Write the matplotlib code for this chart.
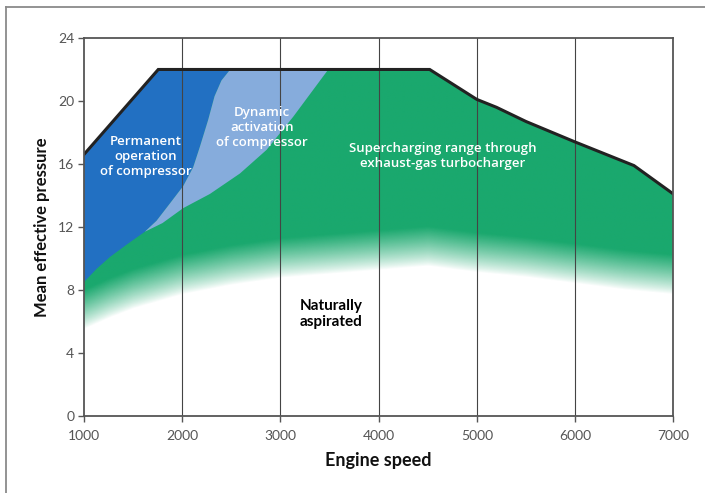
import numpy as np
import matplotlib
matplotlib.use('Agg')
from matplotlib import pyplot as plt
from matplotlib.path import Path
from matplotlib.patches import PathPatch

# full-load line (upper boundary)
top_x = [1000, 1757, 4520, 5000, 5200, 5500, 6000, 6600, 7000]
top_y = [16.6, 22.0, 22.0, 20.1, 19.6, 18.7, 17.4, 15.9, 14.1]

# boundary dark blue / light blue (from the top line down)
db_x = [2490, 2400, 2330, 2265, 2181, 2113, 2011, 1876, 1740, 1620]
db_y = [22.0, 21.3, 20.3, 18.8, 17.1, 15.8, 14.6, 13.5, 12.4, 11.7]

# lower edge of dark blue (green top on the left)
dbl_x = [1000, 1130, 1265, 1450, 1620]
dbl_y = [8.5, 9.35, 10.1, 10.95, 11.7]

# lower edge of light blue (green top)
lbl_x = [1620, 1800, 2011, 2283, 2589, 2860, 3131, 3488]
lbl_y = [11.7, 12.25, 13.2, 14.1, 15.4, 16.9, 19.0, 22.0]

# where the green fades out to white (naturally aspirated limit)
we_x = [1000, 1250, 1500, 2000, 2500, 3000, 3500, 4000, 4500, 5000, 5500, 6000, 6500, 7000]
we_y = [5.5, 6.2, 6.8, 7.7, 8.3, 8.75, 9.0, 9.25, 9.5, 9.1, 8.8, 8.4, 8.0, 7.7]
fade = 2.5

x_ticks = [1000, 2000, 3000, 4000, 5000, 6000, 7000]
y_ticks = [0, 4, 8, 12, 16, 20, 24]

dark_blue = '#2270c2'
light_blue = '#86acdc'
green = np.array([0x1a, 0xa8, 0x6e]) / 255

plt.rcParams['font.family'] = ['Lato', 'DejaVu Sans']

fig = plt.figure(figsize=(7.05, 4.93), dpi=100)
ax = fig.add_axes([0.119, 0.156, 0.836, 0.767])

# gradient green field clipped under the full-load line
gx = np.linspace(1000, 7000, 600)
gy = np.linspace(0, 24, 480)
GX, GY = np.meshgrid(gx, gy)
W = np.interp(GX, we_x, we_y)
a = np.clip((GY - W) / fade, 0, 1) ** 0.85
img = np.zeros(GX.shape + (4,))
img[..., :3] = green
img[..., 3] = a
im = ax.imshow(img, origin='lower', extent=(1000, 7000, 0, 24), aspect='auto',
               interpolation='bilinear', zorder=1)
clip_verts = list(zip(top_x, top_y)) + [(7000, 0), (1000, 0)]
clip = PathPatch(Path(clip_verts + [clip_verts[0]], closed=True), transform=ax.transData,
                 facecolor='none', edgecolor='none')
ax.add_patch(clip)
im.set_clip_path(clip)

# dark blue: permanent operation of compressor
dv = [(1000, 16.6), (1757, 22.0)] + list(zip(db_x, db_y)) + list(zip(dbl_x[::-1], dbl_y[::-1]))
ax.fill([p[0] for p in dv], [p[1] for p in dv], color=dark_blue, lw=0, zorder=2)

# light blue: dynamic activation of compressor
lv = list(zip(db_x, db_y)) + list(zip(lbl_x, lbl_y))
ax.fill([p[0] for p in lv], [p[1] for p in lv], color=light_blue, lw=0, zorder=2)

ax.plot(top_x, top_y, color='#222222', lw=2.2, zorder=4, solid_joinstyle='miter')

# grid
for xv in x_ticks[1:-1]:
    ax.axvline(xv, color='#444444', lw=0.8, zorder=3)

wt = dict(color='white', fontsize=9.5, family=['Open Sans', 'DejaVu Sans'],
          fontweight='semibold', ha='center', va='center', linespacing=1.2, zorder=5)
ax.text(1630, 16.5, 'Permanent\noperation\nof compressor', **wt)
ax.text(2810, 18.3, 'Dynamic\nactivation\nof compressor', **wt)
ax.text(4650, 16.5, 'Supercharging range through\nexhaust-gas turbocharger', **wt)
ax.text(3520, 6.5, 'Naturally\naspirated', color='black', fontsize=11, fontweight='bold',
        ha='center', va='center', linespacing=1.15, zorder=5)

ax.set_xlim(1000, 7000)
ax.set_ylim(0, 24)
ax.set_xticks(x_ticks)
ax.set_yticks(y_ticks)
ax.tick_params(colors='#555555', labelsize=10, length=4, width=1, pad=3)
ax.tick_params(axis='x', pad=6)
for s in ax.spines.values():
    s.set_color('#555555')
    s.set_linewidth(1.3)
    s.set_zorder(6)
ax.set_xlabel('Engine speed', fontsize=13, fontweight='bold', color='#111111', labelpad=7)
ax.set_ylabel('Mean effective pressure', fontsize=12, fontweight='bold', color='#111111', labelpad=6)

# partial outer frame (left and top)
fig.add_artist(plt.Line2D([6 / 705, 6 / 705], [0, 1 - 7 / 493], color='#8a8a8a', lw=1.3,
                          transform=fig.transFigure))
fig.add_artist(plt.Line2D([6 / 705, 1], [1 - 7 / 493, 1 - 7 / 493], color='#8a8a8a', lw=1.3,
                          transform=fig.transFigure))

fig.savefig('out.png', dpi=100)
